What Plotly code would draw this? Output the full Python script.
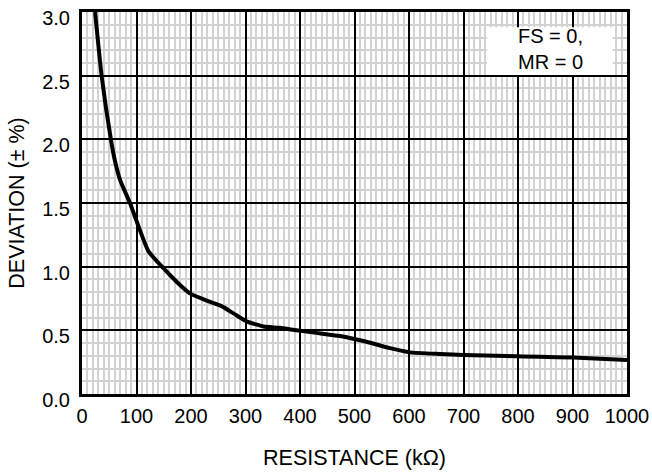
import plotly.graph_objects as go

# Data
resistance_kohm = [24, 36, 53, 60, 70, 88, 106, 122, 149, 174, 198, 229, 256, 278,
                   302, 333, 363, 394, 430, 473, 522, 565, 602, 657, 700, 779, 840,
                   901, 1000]
deviation_pct = [3.0, 2.5, 2.0, 1.84, 1.68, 1.50, 1.29, 1.12, 0.99, 0.88, 0.79, 0.733,
                 0.69, 0.633, 0.57, 0.53, 0.52, 0.50, 0.48, 0.455, 0.41, 0.36, 0.327,
                 0.314, 0.306, 0.298, 0.293, 0.286, 0.268]
x_ticks = [0, 100, 200, 300, 400, 500, 600, 700, 800, 900, 1000]
y_ticks = [0.0, 0.5, 1.0, 1.5, 2.0, 2.5, 3.0]
note_lines = ["FS = 0,", "MR = 0"]

FONT = "Liberation Sans, Arial, Helvetica, sans-serif"

fig = go.Figure()
fig.add_trace(go.Scatter(
    x=resistance_kohm, y=deviation_pct, mode="lines",
    line=dict(color="black", width=4, shape="spline", smoothing=0.5),
    showlegend=False, hoverinfo="skip", cliponaxis=True,
))

# White box behind the note
fig.add_shape(type="rect", xref="x", yref="y", x0=743, x1=974, y0=2.506, y1=2.88,
              fillcolor="white", line=dict(width=0), layer="between")
fig.add_annotation(x=796, y=2.713, xref="x", yref="y", xanchor="left", yanchor="middle",
                   align="left", showarrow=False, text="<br>".join(note_lines),
                   font=dict(family=FONT, size=20, color="black"))

fig.update_layout(
    width=652, height=472,
    margin=dict(l=82, r=25, t=12, b=78, pad=0, autoexpand=False),
    paper_bgcolor="white", plot_bgcolor="white",
    font=dict(family=FONT, color="black"),
)
fig.update_xaxes(
    range=[0, 1000], tickvals=x_ticks, ticktext=[str(v) for v in x_ticks],
    showgrid=True, gridcolor="black", gridwidth=1.5,
    minor=dict(dtick=10, showgrid=True, gridcolor="#d2d2d2", gridwidth=1.6, ticks=""),
    showline=True, linecolor="black", linewidth=3, mirror=True,
    ticks="", tickfont=dict(size=20), zeroline=False, automargin=False,
    title=dict(text="RESISTANCE (kΩ)", font=dict(size=21.5), standoff=24),
    ticklabelstandoff=2,
)
fig.update_yaxes(
    range=[0, 3.0005], tickvals=y_ticks, ticktext=[f"{v:.1f}" for v in y_ticks],
    showgrid=True, gridcolor="black", gridwidth=1.5,
    minor=dict(dtick=0.1, showgrid=True, gridcolor="#d2d2d2", gridwidth=1.6, ticks=""),
    showline=True, linecolor="black", linewidth=3, mirror=True,
    ticks="", tickfont=dict(size=20), zeroline=False, automargin=False,
    title=dict(text="DEVIATION (± %)", font=dict(size=21.5), standoff=12),
    ticklabelstandoff=5, ticklabelshift=6, ticklabeloverflow="allow",
)

fig.write_html("out.html")
